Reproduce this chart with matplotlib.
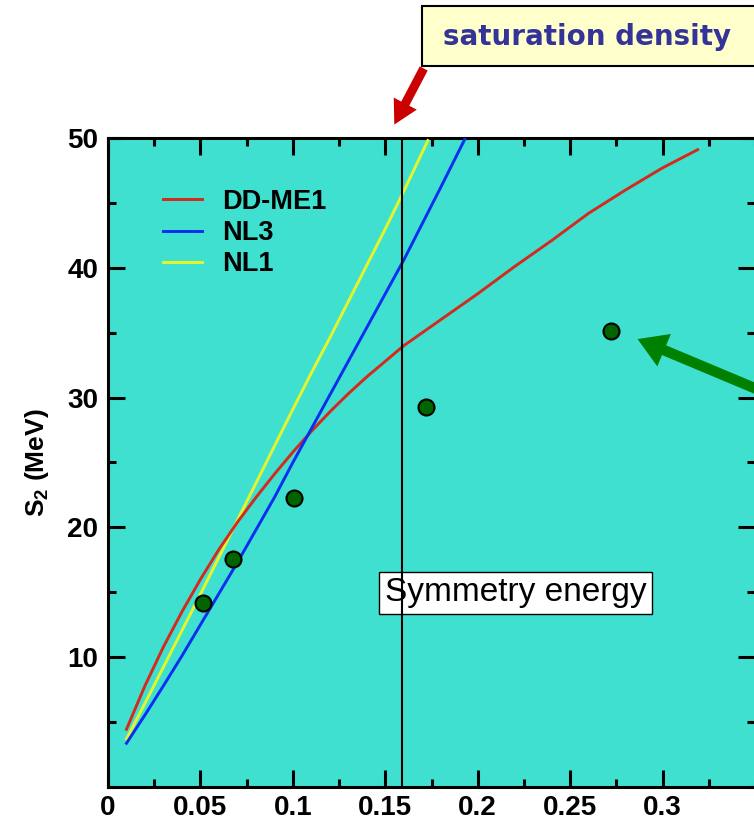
import matplotlib
matplotlib.use("Agg")
import matplotlib.pyplot as plt
from matplotlib.patches import Rectangle, FancyArrowPatch, ArrowStyle
from matplotlib.ticker import MultipleLocator, FixedLocator
from matplotlib.font_manager import FontProperties

# Symmetry energy S2 versus density (fm^-3)
rho_ddme1 = [0.010, 0.020, 0.030, 0.040, 0.050, 0.060, 0.070, 0.080, 0.090, 0.100,
             0.110, 0.120, 0.130, 0.140, 0.150, 0.160, 0.180, 0.200, 0.220, 0.240,
             0.260, 0.280, 0.300, 0.319]
s2_ddme1 = [4.45, 7.8, 10.8, 13.5, 16.0, 18.3, 20.4, 22.3, 24.1, 25.8,
            27.4, 28.9, 30.3, 31.6, 32.8, 34.0, 36.0, 38.0, 40.1, 42.1,
            44.2, 46.0, 47.7, 49.1]

rho_nl3 = [0.010, 0.020, 0.030, 0.040, 0.050, 0.060, 0.070, 0.080, 0.090, 0.100,
           0.110, 0.120, 0.130, 0.140, 0.150, 0.160, 0.170, 0.180, 0.193]
s2_nl3 = [3.37, 5.55, 7.8, 10.1, 12.5, 14.9, 17.3, 19.8, 22.3, 25.0,
          27.6, 30.2, 32.8, 35.4, 38.0, 40.6, 43.4, 46.2, 49.9]

rho_nl1 = [0.010, 0.020, 0.030, 0.040, 0.050, 0.060, 0.070, 0.080, 0.090, 0.100,
           0.110, 0.120, 0.130, 0.140, 0.150, 0.160, 0.173]
s2_nl1 = [3.7, 6.45, 9.25, 12.05, 14.85, 17.7, 20.55, 23.4, 26.25, 29.1,
          31.9, 34.6, 37.4, 40.2, 43.0, 45.9, 49.8]

rho_points = [0.0515, 0.0677, 0.1005, 0.1722, 0.2722]
s2_points = [14.15, 17.6, 22.3, 29.3, 35.15]

rho_saturation = 0.159

xticks = [0, 0.05, 0.1, 0.15, 0.2, 0.25, 0.3]
xtick_labels = ["0", "0.05", "0.1", "0.15", "0.2", "0.25", "0.3"]
yticks = [10, 20, 30, 40, 50]

W, H = 754, 822
fig = plt.figure(figsize=(W / 100, H / 100), dpi=100)
fig.patch.set_facecolor("white")

ax = fig.add_axes([108 / W, 35 / H, 647 / W, 649 / H])
ax.set_facecolor("#40E0D0")
ax.set_xlim(0, 0.35)
ax.set_ylim(0, 50)

lab_font = dict(family="Liberation Sans", weight="bold", size=20)

ax.plot(rho_ddme1, s2_ddme1, color="#D42A1E", lw=2.1, label="DD-ME1", zorder=4,
        solid_joinstyle="round")
ax.plot(rho_nl3, s2_nl3, color="#0A2EF0", lw=2.1, label="NL3", zorder=4,
        solid_joinstyle="round")
ax.plot(rho_nl1, s2_nl1, color="#E6F52A", lw=2.1, label="NL1", zorder=3.9,
        solid_joinstyle="round")

ax.plot(rho_points, s2_points, linestyle="none", marker="o", markersize=11.5,
        markerfacecolor="#006400", markeredgecolor="black", markeredgewidth=1.5, zorder=6)

ax.axvline(rho_saturation, color="black", lw=1.5, zorder=5)

ax.text(0.2205, 14.95, "Symmetry energy", fontsize=24, family="Liberation Sans",
        ha="center", va="center", zorder=2,
        bbox=dict(boxstyle="square,pad=0.17", facecolor="white", edgecolor="black", lw=1))

ax.legend(loc="center left", bbox_to_anchor=(0.085, 0.8536), frameon=False,
          prop=dict(family="Liberation Sans", weight="bold", size=19.5),
          handlelength=1.45, handletextpad=0.75, labelspacing=0.2,
          borderpad=0, borderaxespad=0)

ax.xaxis.set_major_locator(FixedLocator(xticks))
ax.set_xticklabels(xtick_labels)
ax.xaxis.set_minor_locator(MultipleLocator(0.025))
ax.yaxis.set_major_locator(FixedLocator(yticks))
ax.yaxis.set_minor_locator(MultipleLocator(5))
ax.tick_params(which="both", direction="in", top=True, right=True, width=2.2)
ax.tick_params(axis="x", pad=6)
ax.tick_params(axis="y", pad=7)
ax.tick_params(which="major", length=12)
ax.tick_params(which="minor", length=6)
for lbl in ax.get_xticklabels() + ax.get_yticklabels():
    lbl.set_fontproperties(FontProperties(**lab_font))
for sp in ax.spines.values():
    sp.set_linewidth(2.2)

ax.set_ylabel("S$_\\mathregular{2}$ (MeV)", fontdict=dict(lab_font, size=19), labelpad=12)

# "saturation density" callout box above the plot
fig.patches.append(Rectangle((422 / W, 1 - 66 / H), 360 / W, 60 / H,
                             transform=fig.transFigure, facecolor="#FFFFCC",
                             edgecolor="black", lw=1.5, zorder=1))
fig.text(443 / W, 1 - 37 / H, "saturation density", color="#333399",
         family="DejaVu Sans", weight="bold", fontsize=20, ha="left", va="center", zorder=2)

fig.patches.append(FancyArrowPatch((425 / W, 1 - 66 / H), (393 / W, 1 - 127 / H),
                                   transform=fig.transFigure,
                                   arrowstyle=ArrowStyle.Simple(head_length=1.0, head_width=1.1, tail_width=0.38),
                                   mutation_scale=17, color="#CC0000", lw=0, zorder=3))

fig.patches.append(FancyArrowPatch((790 / W, 1 - 403 / H), (635 / W, 1 - 338 / H),
                                   transform=fig.transFigure,
                                   arrowstyle=ArrowStyle.Simple(head_length=0.9, head_width=1.1, tail_width=0.33),
                                   mutation_scale=23, color="#008000", lw=0, zorder=7))

fig.savefig("out.png", dpi=100)
